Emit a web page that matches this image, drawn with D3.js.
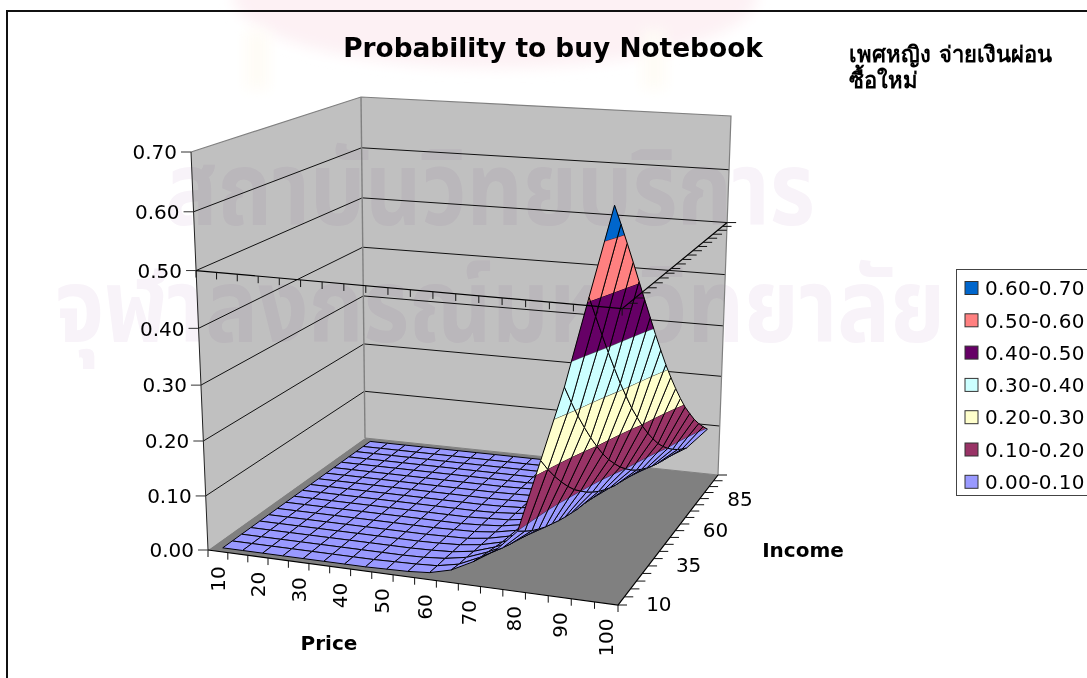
<!DOCTYPE html>
<html>
<head>
<meta charset="utf-8">
<script src="https://cdn.jsdelivr.net/npm/d3@7/dist/d3.min.js"></script>
<style>
html,body{margin:0;padding:0;background:#fff;overflow:hidden}
svg{display:block}
text{font-family:"DejaVu Sans",Verdana,sans-serif;fill:#000}
.mark{font-family:"Noto Sans Thai","Noto Sans","DejaVu Sans",sans-serif;fill:#f8f3f9;mix-blend-mode:multiply;font-weight:bold}
</style>
</head>
<body>
<svg id="chart" width="1087" height="678"></svg>
<script>
// Categories on the two floor axes
const prices = [10,15,20,25,30,35,40,45,50,55,60,65,70,75,80,85,90,95,100];
const incomes = [10,15,20,25,30,35,40,45,50,55,60,65,70,75,80,85,90,95,100];
const priceLabels = [10,20,30,40,50,60,70,80,90,100];
const incomeLabels = [10,35,60,85];
const valueTicks = [0,0.1,0.2,0.3,0.4,0.5,0.6,0.7];

// Probability to buy: one row per income, one column per price
const probability = [
/*  10 */ [0,0,0,0,0,0,0,0,0.001,0.002,0.005,0.015,0.035,0.060,0.100,0.228,0.357,0.509,0.659],
/*  15 */ [0,0,0,0,0,0,0,0,0.001,0.002,0.004,0.012,0.030,0.052,0.087,0.201,0.321,0.469,0.622],
/*  20 */ [0,0,0,0,0,0,0,0,0,0.001,0.004,0.011,0.026,0.045,0.075,0.177,0.287,0.429,0.584],
/*  25 */ [0,0,0,0,0,0,0,0,0,0.001,0.003,0.009,0.022,0.039,0.065,0.155,0.256,0.390,0.545],
/*  30 */ [0,0,0,0,0,0,0,0,0,0.001,0.003,0.008,0.018,0.033,0.056,0.135,0.227,0.353,0.505],
/*  35 */ [0,0,0,0,0,0,0,0,0,0.001,0.002,0.007,0.016,0.028,0.049,0.117,0.200,0.317,0.465],
/*  40 */ [0,0,0,0,0,0,0,0,0,0.001,0.002,0.006,0.014,0.025,0.042,0.102,0.175,0.284,0.426],
/*  45 */ [0,0,0,0,0,0,0,0,0,0,0.002,0.005,0.012,0.021,0.036,0.088,0.153,0.252,0.387],
/*  50 */ [0,0,0,0,0,0,0,0,0,0,0.002,0.004,0.010,0.018,0.031,0.076,0.134,0.224,0.350],
/*  55 */ [0,0,0,0,0,0,0,0,0,0,0.001,0.004,0.009,0.015,0.026,0.065,0.116,0.197,0.314],
/*  60 */ [0,0,0,0,0,0,0,0,0,0,0.001,0.003,0.007,0.013,0.023,0.056,0.101,0.173,0.281],
/*  65 */ [0,0,0,0,0,0,0,0,0,0,0.001,0.002,0.006,0.012,0.019,0.048,0.087,0.151,0.250],
/*  70 */ [0,0,0,0,0,0,0,0,0,0,0.001,0.002,0.006,0.009,0.017,0.041,0.075,0.131,0.221],
/*  75 */ [0,0,0,0,0,0,0,0,0,0,0.001,0.002,0.005,0.008,0.015,0.036,0.065,0.114,0.194],
/*  80 */ [0,0,0,0,0,0,0,0,0,0,0,0.002,0.004,0.007,0.012,0.031,0.056,0.099,0.171],
/*  85 */ [0,0,0,0,0,0,0,0,0,0,0,0.001,0.003,0.006,0.010,0.026,0.048,0.086,0.149],
/*  90 */ [0,0,0,0,0,0,0,0,0,0,0,0.001,0.003,0.005,0.009,0.023,0.041,0.074,0.130],
/*  95 */ [0,0,0,0,0,0,0,0,0,0,0,0.001,0.002,0.005,0.007,0.019,0.035,0.064,0.113],
/* 100 */ [0,0,0,0,0,0,0,0,0,0,0,0.001,0.002,0.004,0.007,0.017,0.030,0.055,0.097]
];

// Colour bands, highest first as the legend lists them
const bandLabels = ["0.60-0.70","0.50-0.60","0.40-0.50","0.30-0.40","0.20-0.30","0.10-0.20","0.00-0.10"];
const bandFloors = [0.6,0.5,0.4,0.3,0.2,0.1,0];
const bandColors = ["#0066cc","#ff8080","#660066","#ccffff","#ffffcc","#993366","#9999ff"];

const svg = d3.select("#chart");

// Scales from data to the unit box of the chart
const priceBand = d3.scaleBand().domain(prices).range([0,1]);
const incomeBand = d3.scaleBand().domain(incomes).range([0,1]);
const priceAt = d => priceBand(d) + priceBand.bandwidth()/2;
const incomeAt = d => incomeBand(d) + incomeBand.bandwidth()/2;
const height = d3.scaleLinear().domain([0,0.7]).range([0,1]);

// Camera: the floor is a homography of the unit square, height is fitted to the wall tops
const floorFL=[208,550], floorFR=[618,605], floorBR=[718,475], floorBL=[365,438];
const topFL=[191,152], topBL=[361,97], topBR=[731,116], topFR=[624,182];
const project = (() => {
  const [x0,y0]=floorFL,[x1,y1]=floorFR,[x2,y2]=floorBR,[x3,y3]=floorBL;
  const dx1=x1-x2,dx2=x3-x2,sx=x0-x1+x2-x3,dy1=y1-y2,dy2=y3-y2,sy=y0-y1+y2-y3;
  const den=dx1*dy2-dx2*dy1;
  const g=(sx*dy2-dx2*sy)/den,h=(dx1*sy-sx*dy1)/den;
  const a=x1-x0+g*x1,b=x3-x0+h*x3,d=y1-y0+g*y1,e=y3-y0+h*y3;
  const base=(u,v)=>[a*u+b*v+x0,d*u+e*v+y0,g*u+h*v+1];
  const tops=[[0,0,topFL],[0,1,topBL],[1,1,topBR]];
  const xs=[],rx=[],ys=[],ry=[];
  tops.forEach(([u,v,p])=>{const [n,m,w]=base(u,v);xs.push(p[0]);rx.push(p[0]*w-n);ys.push(p[1]);ry.push(p[1]*w-m);});
  const mxs=d3.mean(xs),mrx=d3.mean(rx),mys=d3.mean(ys),mry=d3.mean(ry);
  const num=-(d3.sum(xs,(v,i)=>(v-mxs)*(rx[i]-mrx))+d3.sum(ys,(v,i)=>(v-mys)*(ry[i]-mry)));
  const dn=d3.sum(xs,v=>(v-mxs)**2)+d3.sum(ys,v=>(v-mys)**2);
  const K=num/dn,A=mrx+mxs*K,B=mry+mys*K;
  const pinhole=(u,v,w)=>{const [n,m,q]=base(u,v);const s=q+K*w;return [(n+A*w)/s,(m+B*w)/s];};
  // Bilinear residual so the top frame lands exactly on its four corners
  const rest=(p,u,v)=>{const q=pinhole(u,v,1);return [p[0]-q[0],p[1]-q[1]];};
  const r00=rest(topFL,0,0),r10=rest(topFR,1,0),r11=rest(topBR,1,1),r01=rest(topBL,0,1);
  const blend=(k,u,v)=>(1-u)*(1-v)*r00[k]+u*(1-v)*r10[k]+u*v*r11[k]+(1-u)*v*r01[k];
  return (u,v,w)=>{const q=pinhole(u,v,w);return [q[0]+w*blend(0,u,v),q[1]+w*blend(1,u,v)];};
})();
const path = d3.line();
const closed = pts => path(pts)+"Z";

// Pale background seal and lettering behind the chart
const defs = svg.append("defs");
defs.append("filter").attr("id","soft").attr("x","-30%").attr("y","-30%").attr("width","160%").attr("height","160%")
  .append("feGaussianBlur").attr("stdDeviation",7);
const backdrop = svg.append("g");
backdrop.append("ellipse").attr("cx",495).attr("cy",-4).attr("rx",262).attr("ry",72)
  .attr("fill","#fdf1f4").attr("filter","url(#soft)");
backdrop.selectAll("rect.tassel").data([245,642]).join("rect").attr("class","tassel")
  .attr("x",d=>d).attr("y",30).attr("width",24).attr("height",60)
  .attr("fill","#fefcf6").attr("filter","url(#soft)");

// Chart area frame
svg.append("path").attr("d","M7,678V11H1090").attr("fill","none").attr("stroke","#111").attr("stroke-width",2);

// Walls and floor
const walls = svg.append("g");
walls.append("path").attr("d",closed([project(0,0,0),project(0,1,0),project(0,1,1),project(0,0,1)])).attr("fill","#c0c0c0");
walls.append("path").attr("d",closed([project(0,1,0),project(1,1,0),project(1,1,1),project(0,1,1)])).attr("fill","#c0c0c0");
walls.append("path").attr("d",closed([project(0,0,0),project(1,0,0),project(1,1,0),project(0,1,0)])).attr("fill","#808080");

// Lettering printed over the walls
const lettering = svg.append("g");
lettering.append("text").attr("class","mark").attr("x",165).attr("y",225)
  .attr("font-size",104).attr("textLength",650).attr("lengthAdjust","spacingAndGlyphs").text("สถาบันวิทยบริการ");
lettering.append("text").attr("class","mark").attr("x",55).attr("y",342)
  .attr("font-size",104).attr("textLength",890).attr("lengthAdjust","spacingAndGlyphs").text("จุฬาลงกรณ์มหาวิทยาลัย");

// Wall gridlines and wall edges
const grid = svg.append("g").attr("fill","none");
grid.selectAll("path.g").data(valueTicks.filter(d=>d>0&&d<0.7)).join("path").attr("class","g")
  .attr("stroke","#111").attr("stroke-width",1)
  .attr("d",d=>path([project(0,0,height(d)),project(0,1,height(d)),project(1,1,height(d))]));
grid.append("path").attr("stroke","#808080").attr("stroke-width",1.2)
  .attr("d",path([project(0,0,1),project(0,1,1),project(1,1,1),project(1,1,0)]));
grid.append("path").attr("stroke","#808080").attr("stroke-width",1.4)
  .attr("d",path([project(0,1,0),project(0,1,1)]));
grid.append("path").attr("stroke","#808080").attr("stroke-width",1)
  .attr("d",path([project(0,1,0),project(1,1,0)]));
grid.append("path").attr("stroke","#222").attr("stroke-width",1)
  .attr("d",path([project(0,0,0),project(0,0,1)]));

// Floor edges with the tick marks of both category axes
const slots = d3.range(20).map(d=>d/19);
function categoryAxis(g, w){
  g.append("path").attr("fill","none").attr("stroke","#000").attr("stroke-width",1.2)
    .attr("d",path([project(0,0,w),project(1,0,w),project(1,1,w)]));
  g.selectAll("path.pt").data(slots).join("path").attr("class","pt").attr("stroke","#111").attr("stroke-width",1)
    .attr("d",d=>{const [x,y]=project(d,0,w);return path([[x,y],[x,y+7]]);});
  g.selectAll("path.it").data(slots).join("path").attr("class","it").attr("stroke","#111").attr("stroke-width",1)
    .attr("d",d=>{const [x,y]=project(1,d,w);return path([[x,y],[x+9,y]]);});
}
categoryAxis(svg.append("g"),0);

// Surface cells, painted from the far income row to the near one
function clipBand(poly, lo, hi){
  const cut=(pts,keep,t)=>{
    const out=[];
    pts.forEach((a,i)=>{
      const b=pts[(i+1)%pts.length];
      if(keep(a[2])) out.push(a);
      if(keep(a[2])!==keep(b[2])){
        const s=(t-a[2])/(b[2]-a[2]);
        out.push([a[0]+s*(b[0]-a[0]),a[1]+s*(b[1]-a[1]),t]);
      }
    });
    return out;
  };
  let r=cut(poly,z=>z>=lo,lo);
  if(r.length) r=cut(r,z=>z<=hi,hi);
  return r;
}
const toScreen = p => project(p[0],p[1],height(p[2]));
const cells=[];
for(let j=incomes.length-2;j>=0;j--){
  for(let i=0;i<prices.length-1;i++){
    cells.push([
      [priceAt(prices[i]),incomeAt(incomes[j]),probability[j][i]],
      [priceAt(prices[i+1]),incomeAt(incomes[j]),probability[j][i+1]],
      [priceAt(prices[i+1]),incomeAt(incomes[j+1]),probability[j+1][i+1]],
      [priceAt(prices[i]),incomeAt(incomes[j+1]),probability[j+1][i]]
    ]);
  }
}
const surface = svg.append("g");
const cellG = surface.selectAll("g").data(cells).join("g");
cellG.each(function(cell){
  const g=d3.select(this);
  bandFloors.forEach((lo,b)=>{
    const piece=clipBand(cell,lo,lo+0.1);
    if(piece.length<3) return;
    g.append("path").attr("d",closed(piece.map(toScreen)))
      .attr("fill",bandColors[b]).attr("stroke",bandColors[b]).attr("stroke-width",0.4);
    const seam=piece.filter(p=>p[2]===lo&&lo>0);
    if(seam.length>=2) g.append("path").attr("d",path(seam.slice(0,2).map(toScreen)))
      .attr("fill","none").attr("stroke","#000").attr("stroke-width",1);
  });
  g.append("path").attr("d",closed(cell.map(toScreen)))
    .attr("fill","none").attr("stroke","#000").attr("stroke-width",1).attr("stroke-linejoin","round");
});

// The raised axis frame sits over the surface at the 0.50 level
categoryAxis(svg.append("g"),height(0.5));

// Value axis
const valueAxis = svg.append("g");
valueAxis.selectAll("path").data(valueTicks).join("path").attr("stroke","#333").attr("stroke-width",1)
  .attr("d",d=>{const [x,y]=project(0,0,height(d));return path([[x,y],[x-10,y]]);});
valueAxis.selectAll("text").data(valueTicks).join("text")
  .attr("x",d=>project(0,0,height(d))[0]-14).attr("y",d=>project(0,0,height(d))[1])
  .attr("dy","0.36em").attr("text-anchor","end").attr("font-size",20).text(d=>d.toFixed(2));

// Category labels
svg.append("g").selectAll("text").data(priceLabels).join("text")
  .attr("text-anchor","end").attr("font-size",20)
  .attr("transform",d=>{const [x,y]=project(priceAt(d),0,0);return `translate(${x+7},${y+15}) rotate(-90)`;})
  .text(d=>d);
svg.append("g").selectAll("text").data(incomeLabels).join("text")
  .attr("font-size",20).attr("dy","0.36em")
  .attr("x",d=>project(1,incomeAt(d),0)[0]+25).attr("y",d=>project(1,incomeAt(d),0)[1]+3)
  .text(d=>d);

// Titles
svg.append("text").attr("x",553).attr("y",57).attr("text-anchor","middle").attr("font-size",26.4).attr("font-weight","bold").text("Probability to buy Notebook");
svg.append("text").attr("x",329).attr("y",650).attr("text-anchor","middle").attr("font-size",20).attr("font-weight","bold").text("Price");
svg.append("text").attr("x",803).attr("y",557).attr("text-anchor","middle").attr("font-size",20).attr("font-weight","bold").text("Income");
const note = svg.append("g").attr("font-size",22).attr("font-weight","bold");
note.append("text").attr("x",849).attr("y",62).text("เพศหญิง จ่ายเงินผ่อน");
note.append("text").attr("x",849).attr("y",88).text("ซื้อใหม่");

// Legend
const legend = svg.append("g");
legend.append("rect").attr("x",956.5).attr("y",269.5).attr("width",140).attr("height",226)
  .attr("fill","#fff").attr("stroke","#444").attr("stroke-width",1);
const rows = legend.selectAll("g").data(bandLabels).join("g")
  .attr("transform",(d,i)=>`translate(965,${288+i*32.3})`);
rows.append("rect").attr("y",-6.5).attr("width",13).attr("height",13)
  .attr("fill",(d,i)=>bandColors[i]).attr("stroke","#333").attr("stroke-width",1);
rows.append("text").attr("x",20).attr("dy","0.36em").attr("font-size",20).attr("letter-spacing",0.4).text(d=>d);
</script>
</body>
</html>
